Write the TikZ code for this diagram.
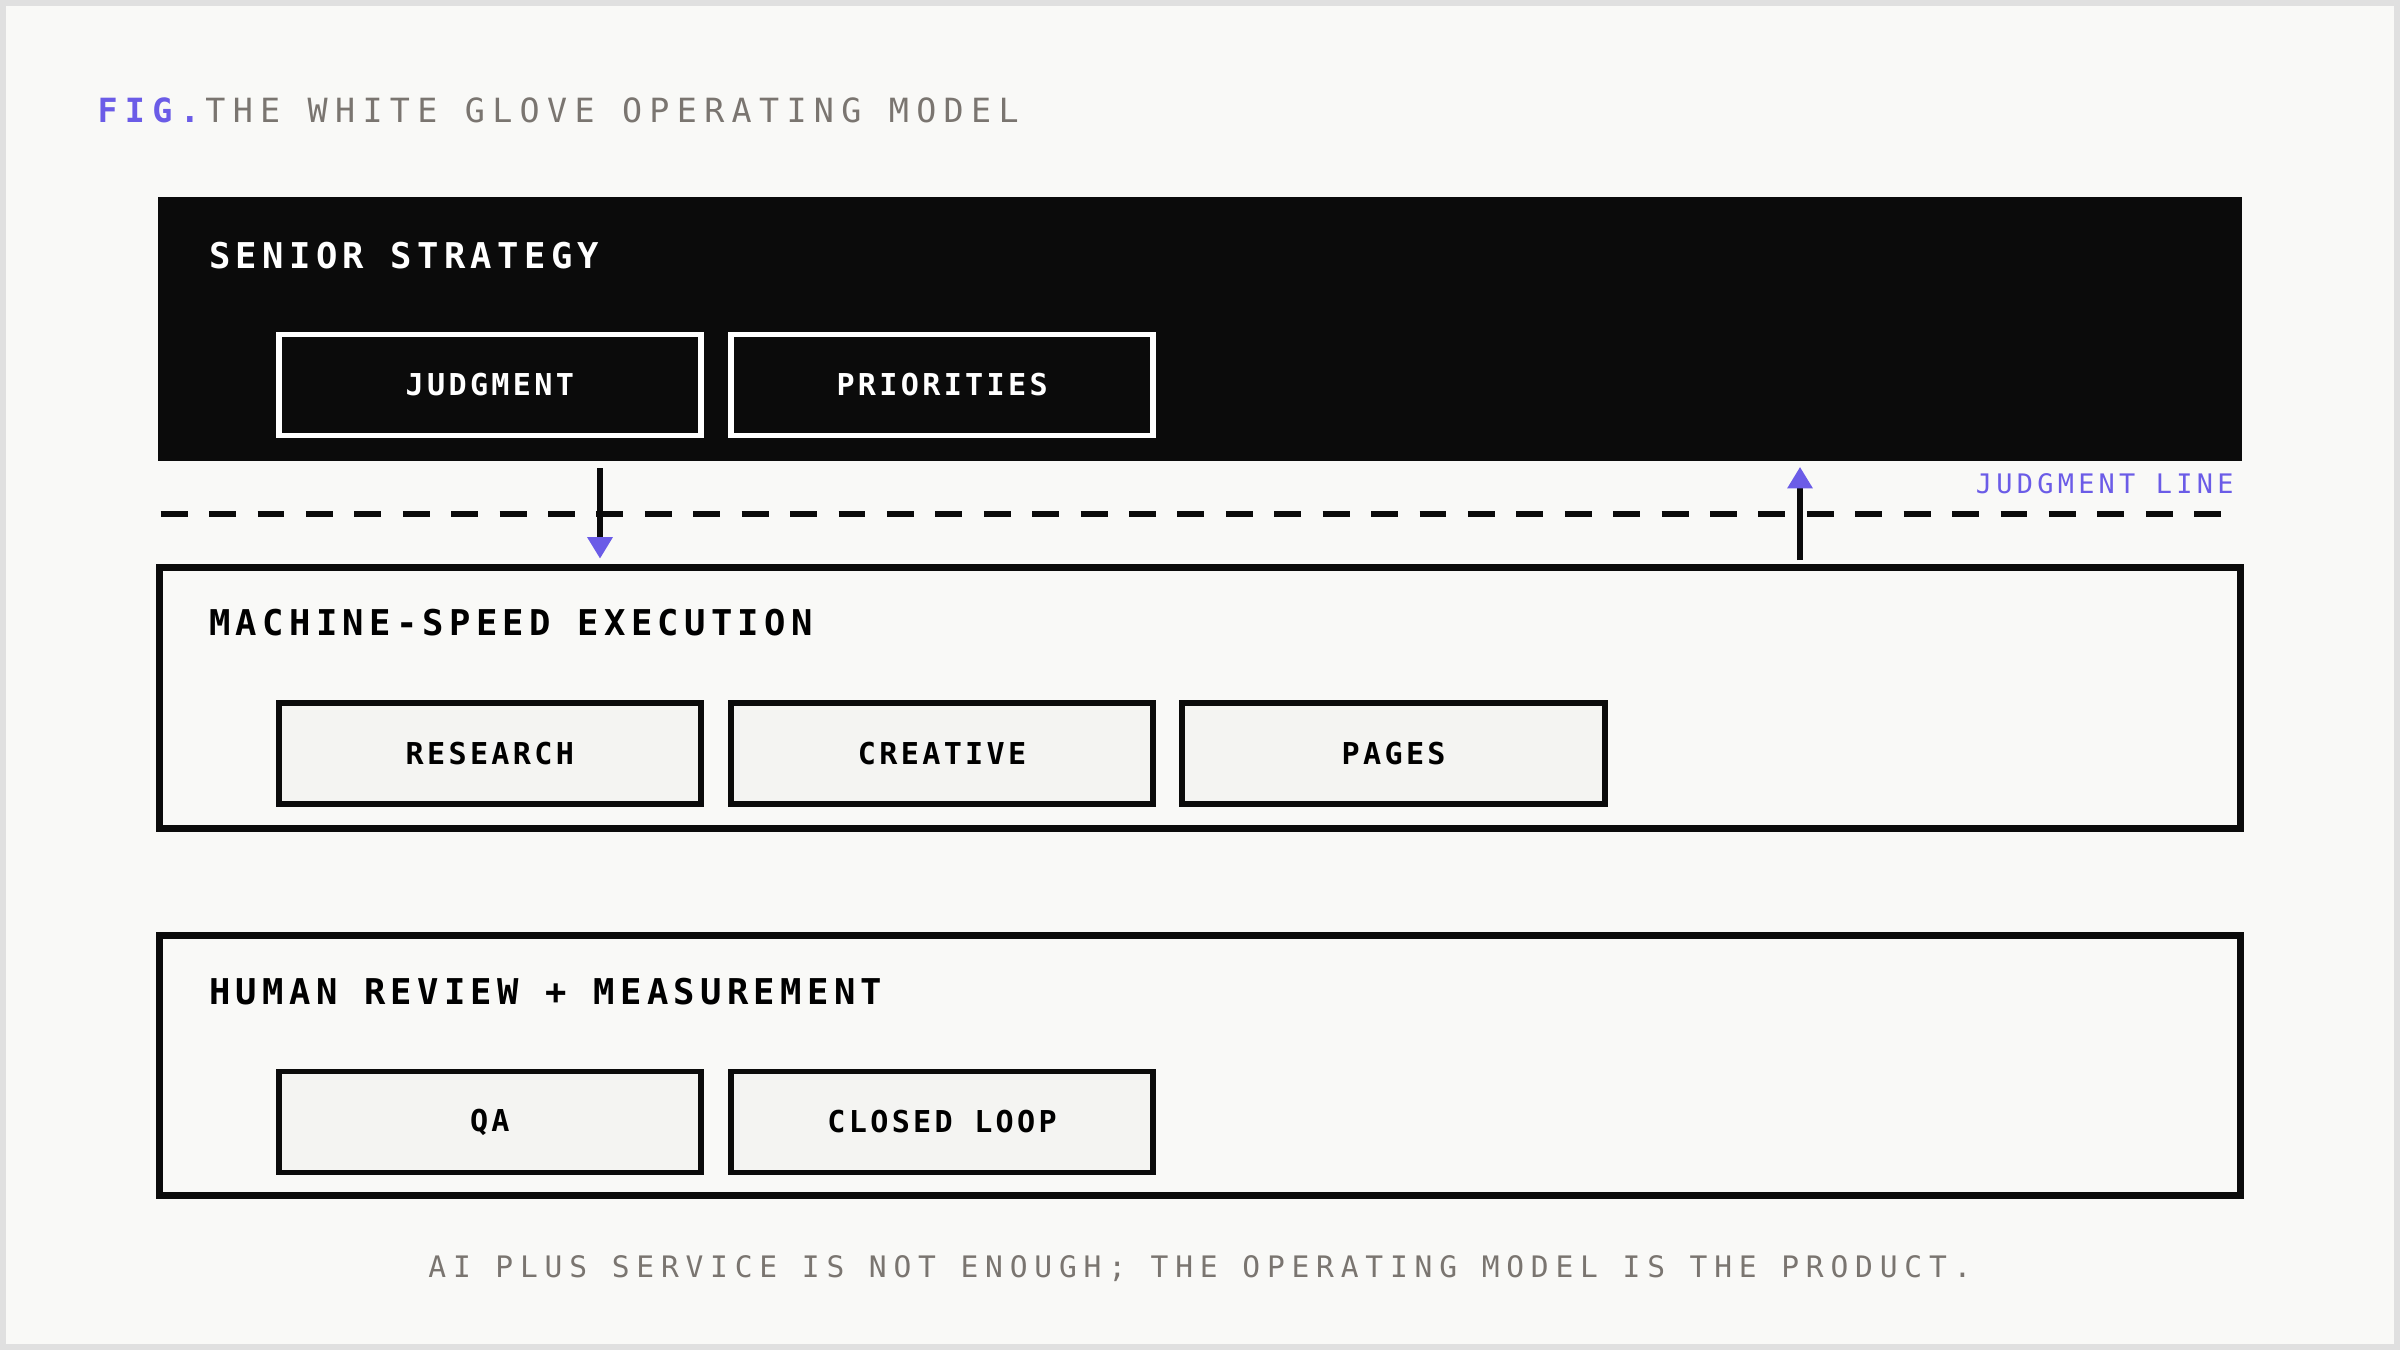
\documentclass[tikz,border=0pt]{standalone}
\usepackage{fontspec}
\setmonofont{DejaVu Sans Mono}
\usetikzlibrary{arrows.meta,positioning}
\definecolor{paper}{HTML}{F9F9F7}
\definecolor{ink}{HTML}{0B0B0B}
\definecolor{accent}{HTML}{6B5CE7}
\definecolor{muted}{HTML}{7A7570}
\definecolor{chip}{HTML}{F4F4F2}
\tikzset{
  layer/.style={draw=ink, line width=1.3pt, fill=paper},
  tag/.style={draw=ink, line width=1.1pt, fill=chip, minimum width=2.76cm, minimum height=0.66cm,
    font=\ttfamily\bfseries\fontsize{5.6}{6}\selectfont\addfontfeature{LetterSpace=11}},
  darktag/.style={tag, draw=white, fill=ink, text=white},
  heading/.style={anchor=west, inner sep=0pt, font=\ttfamily\bfseries\fontsize{6.6}{7}\selectfont\addfontfeature{LetterSpace=15}},
  flow/.style={line width=1.2pt, ink, -{Triangle[length=4pt,width=4.5pt,fill=accent,color=accent]}}
}
\begin{document}
\begin{tikzpicture}[y=-1cm]
\useasboundingbox (0,0) rectangle (15.68,8.82);
\fill[paper, draw=black!12, line width=1pt] (0.02,0.02) rectangle (15.66,8.80);
% title
\node[anchor=west, inner sep=0pt, font=\ttfamily\fontsize{6.2}{7}\selectfont\addfontfeature{LetterSpace=22}] (fig) at (0.63,0.72)
  {\textcolor{accent}{\bfseries FIG.}\,\textcolor{muted}{THE WHITE GLOVE OPERATING MODEL}};
% senior strategy
\fill[ink] (1.03,1.29) rectangle (14.65,3.01);
\node[heading, text=white] (senior) at (1.36,1.67) {SENIOR STRATEGY};
\node[darktag] (judgment) at (3.20,2.515) {JUDGMENT};
\node[darktag] (priorities) at (6.155,2.515) {PRIORITIES};
% judgment line
\draw[ink, line width=1.1pt, dash pattern=on 5pt off 4pt] (1.05,3.36) -- (14.60,3.36);
\node[anchor=east, inner sep=0pt, text=accent, font=\ttfamily\fontsize{5}{6}\selectfont\addfontfeature{LetterSpace=16}] (jline) at (14.60,3.16) {JUDGMENT LINE};
% machine-speed execution
\draw[layer] (1.04,3.71) rectangle (14.64,5.41);
\node[heading] (machine) at (1.36,4.07) {MACHINE-SPEED EXECUTION};
\node[tag] (research) at (3.20,4.925) {RESEARCH};
\node[tag] (creative) at (6.155,4.925) {CREATIVE};
\node[tag] (pages) at (9.105,4.925) {PAGES};
% arrows across the line
\coordinate (downtop) at (3.92,3.06);
\coordinate (downbot) at (3.92,3.65);
\coordinate (uptop) at (11.76,3.05);
\coordinate (upbot) at (11.76,3.66);
\draw[flow] (downtop) -- (downbot);
\draw[flow] (upbot) -- (uptop);
% human review
\draw[layer] (1.04,6.11) rectangle (14.64,7.81);
\node[heading] (human) at (1.36,6.48) {HUMAN REVIEW + MEASUREMENT};
\node[tag] (qa) at (3.20,7.33) {QA};
\node[tag] (loop) at (6.155,7.33) {CLOSED LOOP};
% footer
\node[inner sep=0pt, text=muted, font=\ttfamily\fontsize{5.5}{6}\selectfont\addfontfeature{LetterSpace=23}] (footer) at (7.84,8.29)
  {AI PLUS SERVICE IS NOT ENOUGH; THE OPERATING MODEL IS THE PRODUCT.};
\end{tikzpicture}
\end{document}
